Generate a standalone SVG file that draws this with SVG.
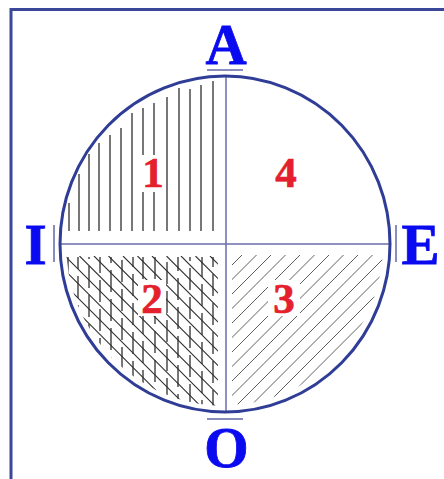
<svg xmlns="http://www.w3.org/2000/svg" width="444" height="479" viewBox="0 0 444 479">
<style>
.frame{fill:none;stroke:#3b4899;stroke-width:3}
.circ{fill:none;stroke:#2f3d96;stroke-width:3}
.axis{stroke:#6a6eac;stroke-width:1.5;fill:none}
.bar{stroke:#8a8cbc;stroke-width:2;fill:none}
.v{stroke:#2e2e2e;stroke-width:1.3}
.vd{stroke:#2e2e2e;stroke-width:1.3;stroke-dasharray:22 7}
.d2{stroke:#2e2e2e;stroke-width:1.1}
.d3{stroke:#5e5e5e;stroke-width:1}
.lbl{font-family:"Liberation Serif","Times New Roman",serif;font-weight:bold;font-size:57px;fill:#0a0af0;stroke:#0a0af0;stroke-width:0.8;text-anchor:middle}
.num{font-family:"Liberation Serif","Times New Roman",serif;font-weight:bold;font-size:43px;fill:#e4202c;stroke:#e4202c;stroke-width:0.7;text-anchor:middle}
</style>
<defs>
<clipPath id="cq2e"><ellipse cx="225" cy="244" rx="159" ry="162"/></clipPath>
<clipPath id="cq2r"><rect x="64" y="256" width="154" height="160"/></clipPath>
<clipPath id="cq3e"><ellipse cx="225" cy="244" rx="158" ry="161"/></clipPath>
<clipPath id="cq3r"><rect x="232" y="255" width="160" height="160"/></clipPath>
</defs>
<rect class="frame" x="11" y="9.5" width="470" height="490"/>

<g id="hatch1">
<line class="v" x1="69" y1="203" x2="69" y2="231"/>
<line class="v" x1="79" y1="174" x2="79" y2="231"/>
<line class="v" x1="89" y1="154" x2="89" y2="231"/>
<line class="v" x1="99" y1="143" x2="99" y2="231"/>
<line class="v" x1="110" y1="135" x2="110" y2="231"/>
<line class="v" x1="121" y1="128" x2="121" y2="231"/>
<line class="v" x1="132" y1="113" x2="132" y2="231"/>
<line class="v" x1="143" y1="108" x2="143" y2="155"/>
<line class="v" x1="143" y1="192" x2="143" y2="231"/>
<line class="v" x1="154" y1="103" x2="154" y2="155"/>
<line class="v" x1="154" y1="192" x2="154" y2="231"/>
<line class="v" x1="167" y1="97" x2="167" y2="231"/>
<line class="v" x1="179" y1="88" x2="179" y2="231"/>
<line class="v" x1="190" y1="89" x2="190" y2="231"/>
<line class="v" x1="201" y1="85" x2="201" y2="231"/>
<line class="v" x1="213" y1="81" x2="213" y2="231"/>
</g>

<g id="hatch2" clip-path="url(#cq2e)">
<g clip-path="url(#cq2r)">
<line class="vd" x1="68" y1="257" x2="68" y2="420" stroke-dashoffset="0"/>
<line class="vd" x1="78" y1="257" x2="78" y2="420" stroke-dashoffset="10"/>
<line class="vd" x1="89" y1="257" x2="89" y2="420" stroke-dashoffset="20"/>
<line class="vd" x1="100" y1="257" x2="100" y2="420" stroke-dashoffset="6"/>
<line class="vd" x1="111" y1="257" x2="111" y2="420" stroke-dashoffset="16"/>
<line class="vd" x1="122" y1="257" x2="122" y2="420" stroke-dashoffset="26"/>
<line class="vd" x1="133" y1="257" x2="133" y2="420" stroke-dashoffset="12"/>
<line class="vd" x1="143" y1="257" x2="143" y2="280"/>
<line class="vd" x1="143" y1="316" x2="143" y2="420" stroke-dashoffset="4"/>
<line class="vd" x1="155" y1="257" x2="155" y2="280"/>
<line class="vd" x1="155" y1="316" x2="155" y2="420" stroke-dashoffset="14"/>
<line class="vd" x1="167" y1="257" x2="167" y2="420" stroke-dashoffset="24"/>
<line class="vd" x1="178" y1="257" x2="178" y2="420" stroke-dashoffset="8"/>
<line class="vd" x1="190" y1="257" x2="190" y2="420" stroke-dashoffset="18"/>
<line class="vd" x1="202" y1="257" x2="202" y2="420" stroke-dashoffset="2"/>
<line class="vd" x1="213" y1="257" x2="213" y2="420" stroke-dashoffset="12"/>
<line class="d2" x1="-80" y1="256" x2="120" y2="456"/>
<line class="d2" x1="-65.5" y1="256" x2="134.5" y2="456"/>
<line class="d2" x1="-51" y1="256" x2="149" y2="456"/>
<line class="d2" x1="-36.5" y1="256" x2="163.5" y2="456"/>
<line class="d2" x1="-22" y1="256" x2="178" y2="456"/>
<line class="d2" x1="-7.5" y1="256" x2="192.5" y2="456"/>
<line class="d2" x1="7" y1="256" x2="207" y2="456"/>
<line class="d2" x1="21.5" y1="256" x2="221.5" y2="456"/>
<line class="d2" x1="36" y1="256" x2="236" y2="456"/>
<line class="d2" x1="50.5" y1="256" x2="250.5" y2="456"/>
<line class="d2" x1="65" y1="256" x2="265" y2="456"/>
<line class="d2" x1="79.5" y1="256" x2="279.5" y2="456"/>
<line class="d2" x1="94" y1="256" x2="294" y2="456"/>
<line class="d2" x1="108.5" y1="256" x2="308.5" y2="456"/>
<line class="d2" x1="123" y1="256" x2="323" y2="456"/>
<line class="d2" x1="137.5" y1="256" x2="337.5" y2="456"/>
<line class="d2" x1="152" y1="256" x2="352" y2="456"/>
<line class="d2" x1="166.5" y1="256" x2="366.5" y2="456"/>
<line class="d2" x1="181" y1="256" x2="381" y2="456"/>
<line class="d2" x1="195.5" y1="256" x2="395.5" y2="456"/>
<line class="d2" x1="210" y1="256" x2="410" y2="456"/>
</g>
</g>
<rect x="138" y="280" width="28" height="36" fill="#fff"/>

<g id="hatch3" clip-path="url(#cq3e)">
<g clip-path="url(#cq3r)">
<line class="d3" x1="242" y1="255" x2="42" y2="455"/>
<line class="d3" x1="256.5" y1="255" x2="56.5" y2="455"/>
<line class="d3" x1="271" y1="255" x2="71" y2="455"/>
<line class="d3" x1="285.5" y1="255" x2="85.5" y2="455"/>
<line class="d3" x1="300" y1="255" x2="100" y2="455"/>
<line class="d3" x1="314.5" y1="255" x2="114.5" y2="455"/>
<line class="d3" x1="329" y1="255" x2="129" y2="455"/>
<line class="d3" x1="343.5" y1="255" x2="143.5" y2="455"/>
<line class="d3" x1="358" y1="255" x2="158" y2="455"/>
<line class="d3" x1="372.5" y1="255" x2="172.5" y2="455"/>
<line class="d3" x1="387" y1="255" x2="187" y2="455"/>
<line class="d3" x1="401.5" y1="255" x2="201.5" y2="455"/>
<line class="d3" x1="416" y1="255" x2="216" y2="455"/>
<line class="d3" x1="430.5" y1="255" x2="230.5" y2="455"/>
<line class="d3" x1="445" y1="255" x2="245" y2="455"/>
<line class="d3" x1="459.5" y1="255" x2="259.5" y2="455"/>
<line class="d3" x1="474" y1="255" x2="274" y2="455"/>
<line class="d3" x1="488.5" y1="255" x2="288.5" y2="455"/>
</g>
</g>
<rect x="268" y="280" width="32" height="36" fill="#fff"/>

<g id="axes">
<line class="axis" x1="226" y1="76" x2="226" y2="411"/>
<line class="axis" x1="60" y1="244" x2="390" y2="244"/>
</g>
<ellipse id="circle" class="circ" cx="225" cy="244" rx="165" ry="168"/>

<g id="label-A"><line class="bar" x1="207" y1="70" x2="243" y2="70"/><text class="lbl" x="226" y="64">A</text></g>
<g id="label-I"><line class="bar" x1="54" y1="225" x2="54" y2="262"/><text class="lbl" x="35.5" y="264">I</text></g>
<g id="label-E"><line class="bar" x1="396" y1="225" x2="396" y2="262"/><text class="lbl" x="420.5" y="264">E</text></g>
<g id="label-O"><line class="bar" x1="207" y1="419" x2="243" y2="419"/><text class="lbl" x="226.5" y="467">O</text></g>

<g id="q1"><text class="num" x="153" y="187">1</text></g>
<g id="q4"><text class="num" x="286" y="187">4</text></g>
<g id="q2"><text class="num" x="152" y="313">2</text></g>
<g id="q3"><text class="num" x="284" y="313">3</text></g>
</svg>
